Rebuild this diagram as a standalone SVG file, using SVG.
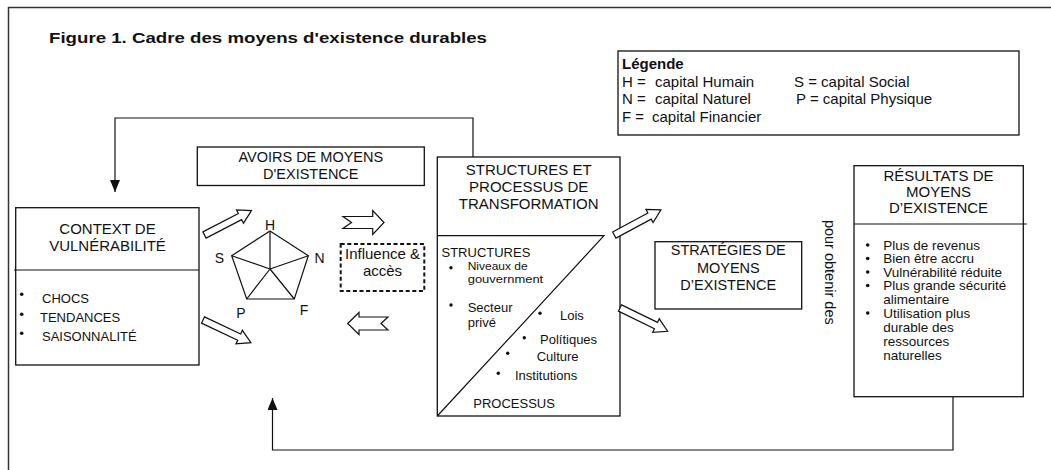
<svg xmlns="http://www.w3.org/2000/svg" width="1051" height="470" viewBox="0 0 1051 470">
  <style>
    .frame{fill:none;stroke:#333;stroke-width:1.5}
    .box{fill:#fff;stroke:#111;stroke-width:1.3}
    .ln{fill:none;stroke:#111;stroke-width:1.2}
    .dash{fill:#fff;stroke:#111;stroke-width:2;stroke-dasharray:4 2.6}
    .blk{fill:#fff;stroke:#111;stroke-width:1.2;stroke-linejoin:miter}
    .dot{fill:#111}
    text{font-family:"Liberation Sans",Arial,sans-serif;fill:#111}
    .title{font-size:15px;font-weight:bold}
    .lg{font-size:15px}
    .lgb{font-size:15px;font-weight:bold}
    .hd{font-size:15px;text-anchor:middle}
    .hd14{font-size:14.5px;text-anchor:middle}
    .sm{font-size:13px}
    .xs{font-size:11.5px}
    .md{font-size:13.5px}
    .pl{font-size:14px;text-anchor:middle}
  </style>
  <defs>
    <marker id="tri" markerUnits="userSpaceOnUse" markerWidth="12" markerHeight="10" refX="12" refY="5" orient="auto">
      <path d="M0,0 L12,5 L0,10 Z" fill="#111"/>
    </marker>
    <!-- hollow block arrow, tail at origin, pointing along +x -->
    <path id="diagArrow" d="M0,-3.5 H40 V-7.5 L53,0 L40,7.5 V3.5 H0 Z"/>
  </defs>

  <!-- outer frame (top and left edges) -->
  <g id="frame">
    <line class="frame" x1="8" y1="7.5" x2="1051" y2="7.5"/>
    <line class="frame" x1="8.5" y1="7" x2="8.5" y2="470"/>
  </g>

  <text id="title" class="title" x="49" y="43" textLength="438" lengthAdjust="spacingAndGlyphs">Figure 1. Cadre des moyens d'existence durables</text>

  <g id="legend">
    <rect class="box" x="618" y="51" width="401" height="84"/>
    <text class="lgb" x="622" y="69">Légende</text>
    <text class="lg" x="622" y="86.5">H =<tspan x="655">capital Humain</tspan></text>
    <text class="lg" x="622" y="104">N =<tspan x="655">capital Naturel</tspan></text>
    <text class="lg" x="622" y="121.5">F =<tspan x="652">capital Financier</tspan></text>
    <text class="lg" x="794" y="86.5">S = capital Social</text>
    <text class="lg" x="796" y="104">P = capital Physique</text>
  </g>

  <!-- feedback connectors -->
  <g id="connectors">
    <path class="ln" d="M473,157 V118 H115 V192" marker-end="url(#tri)"/>
    <path class="ln" d="M953,397 V450 H272.5 V398" marker-end="url(#tri)"/>
  </g>

  <g id="vulnerability">
    <rect class="box" x="15.7" y="207.7" width="183.3" height="157.3"/>
    <line class="ln" x1="14" y1="270" x2="199" y2="270"/>
    <text class="hd" y="234"><tspan x="107.5">CONTEXT DE</tspan><tspan x="107.5" y="251">VULNÉRABILITÉ</tspan></text>
    <circle class="dot" cx="21.7" cy="294.3" r="1.8"/>
    <circle class="dot" cx="21.7" cy="314.3" r="1.8"/>
    <circle class="dot" cx="21.7" cy="333.3" r="1.8"/>
    <text class="sm" x="42" y="303">CHOCS</text>
    <text class="sm" x="40" y="321.5">TENDANCES</text>
    <text class="sm" x="42" y="341">SAISONNALITÉ</text>
  </g>

  <g id="assets">
    <rect class="box" x="197.3" y="147" width="227" height="38.5"/>
    <text class="hd14" y="161.5"><tspan x="310.8">AVOIRS DE MOYENS</tspan><tspan x="310.8" y="178.5">D'EXISTENCE</tspan></text>
  </g>

  <g id="pentagon">
    <path class="ln" d="M270,231 L308.3,255.7 L294.3,299 L246.7,299 L231.7,255.7 Z"/>
    <path class="ln" d="M270,231 L270,269 M308.3,255.7 L270,269 M294.3,299 L270,269 M246.7,299 L270,269 M231.7,255.7 L270,269"/>
    <text class="pl" x="270" y="229.5">H</text>
    <text class="pl" x="319.5" y="263">N</text>
    <text class="pl" x="304" y="315">F</text>
    <text class="pl" x="241" y="318.3">P</text>
    <text class="pl" x="219.5" y="263">S</text>
  </g>

  <g id="influence">
    <rect class="dash" x="340.7" y="244" width="83.6" height="47"/>
    <text class="hd" y="258.5"><tspan x="382.5">Influence &amp;</tspan><tspan x="382.5" y="276">accès</tspan></text>
  </g>

  <g id="structures">
    <rect class="box" x="437.3" y="157" width="182.7" height="259"/>
    <path class="ln" d="M437.3,235.7 H604 L437.3,416"/>
    <text class="hd" y="174.5"><tspan x="528.7">STRUCTURES ET</tspan><tspan x="528.7" y="191.5">PROCESSUS DE</tspan><tspan x="528.7" y="208.5">TRANSFORMATION</tspan></text>
    <text class="sm" x="441.5" y="256.5">STRUCTURES</text>
    <circle class="dot" cx="451" cy="267.7" r="1.7"/>
    <circle class="dot" cx="451" cy="305" r="1.7"/>
    <circle class="dot" cx="540" cy="313.3" r="1.7"/>
    <circle class="dot" cx="524.3" cy="337.7" r="1.7"/>
    <circle class="dot" cx="507.7" cy="353.3" r="1.7"/>
    <circle class="dot" cx="498.3" cy="373.3" r="1.7"/>
    <text class="xs" x="467.7" y="270" textLength="60" lengthAdjust="spacingAndGlyphs">Niveaux de</text>
    <text class="xs" x="467.7" y="282.5" textLength="75.5" lengthAdjust="spacingAndGlyphs">gouvernment</text>
    <text class="sm" x="467.7" y="311.7">Secteur<tspan x="467.7" y="326.7">privé</tspan></text>
    <text class="sm" x="560" y="320">Lois</text>
    <text class="sm" x="540" y="344">Polítiques</text>
    <text class="sm" x="536.7" y="360.7">Culture</text>
    <text class="sm" x="515" y="380">Institutions</text>
    <text class="sm" x="473.3" y="408.3">PROCESSUS</text>
  </g>

  <g id="strategies">
    <rect class="box" x="655" y="241.7" width="146.7" height="67.3"/>
    <text class="hd14" y="255"><tspan x="728.3">STRATÉGIES DE</tspan><tspan x="728.3" y="272.5">MOYENS</tspan><tspan x="728.3" y="290">D’EXISTENCE</tspan></text>
  </g>

  <text id="obtain" class="hd14" transform="translate(824.7,272.3) rotate(90)">pour obtenir des</text>

  <g id="outcomes">
    <rect class="box" x="854" y="165.7" width="169.3" height="231"/>
    <line class="ln" x1="854" y1="224" x2="1026.7" y2="224"/>
    <text class="hd" y="181"><tspan x="938.5">RÉSULTATS DE</tspan><tspan x="938.5" y="197">MOYENS</tspan><tspan x="938.5" y="213">D’EXISTENCE</tspan></text>
    <circle class="dot" cx="867.7" cy="245" r="1.8"/>
    <circle class="dot" cx="867.7" cy="258.5" r="1.8"/>
    <circle class="dot" cx="867.7" cy="272" r="1.8"/>
    <circle class="dot" cx="867.7" cy="285.5" r="1.8"/>
    <circle class="dot" cx="867.7" cy="313" r="1.8"/>
    <text class="md" x="883.3" y="249.5">Plus de revenus</text>
    <text class="md" x="883.3" y="263">Bien être accru</text>
    <text class="md" x="883.3" y="276.5">Vulnérabilité réduite</text>
    <text class="md" x="883.3" y="290">Plus grande sécurité<tspan x="883.3" y="303.5">alimentaire</tspan></text>
    <text class="md" x="883.3" y="317.5">Utilisation plus<tspan x="883.3" y="331.5">durable des</tspan><tspan x="883.3" y="345.5">ressources</tspan><tspan x="883.3" y="359.5">naturelles</tspan></text>
  </g>

  <!-- hollow flow arrows between stages -->
  <g id="flow-arrows" class="blk">
    <use href="#diagArrow" transform="translate(204.5,235) rotate(-27.5)"/>
    <use href="#diagArrow" transform="translate(203,320) rotate(25.3)"/>
    <use href="#diagArrow" transform="translate(614.3,235) rotate(-28.3)"/>
    <use href="#diagArrow" transform="translate(620,308) rotate(26)"/>
    <path d="M343,216.5 H372.7 V210.5 L384,222.5 L372.7,234.5 V228.5 H343 L351.5,222.5 Z"/>
    <path d="M347.7,323.5 L359,312.5 V317 H388 L381,323.5 L388,330 H359 V334.5 Z"/>
  </g>
</svg>
